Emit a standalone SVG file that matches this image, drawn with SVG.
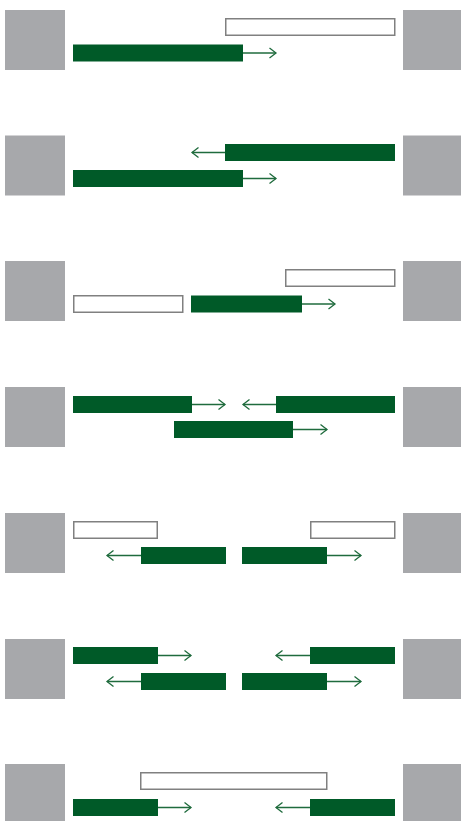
<svg xmlns="http://www.w3.org/2000/svg" width="461" height="821" viewBox="0 0 461 821">
<style>
.sq{fill:#a7a8ab}
.g{fill:#005a28}
.o{fill:#fff;stroke:#808080;stroke-width:1.5}
.a{stroke:#1f6b3d;stroke-width:1.3;fill:none;marker-end:url(#ah)}
</style>
<defs>
<marker id="ah" markerUnits="userSpaceOnUse" markerWidth="10" markerHeight="12" refX="7" refY="6" orient="auto" viewBox="0 0 10 12">
<path d="M0.5,1 L7,6 L0.5,11" fill="none" stroke="#1f6b3d" stroke-width="1.3"/>
</marker>
</defs>
<rect width="461" height="821" fill="#fff"/>
<!-- Row 1 -->
<g id="row1" transform="translate(0,10)">
<g id="r1-left"><rect class="sq" x="5" y="0" width="60" height="60"/></g>
<g id="r1-right"><rect class="sq" x="403" y="0" width="58" height="60"/></g>
<g id="r1-b1"><rect class="o" x="225.75" y="8.75" width="169" height="16.5"/></g>
<g id="r1-b2"><rect class="g" x="73" y="34.5" width="170" height="17"/></g>
<g id="r1-conn"><line class="a" x1="243" y1="43" x2="276" y2="43"/></g>
</g>
<!-- Row 2 -->
<g id="row2" transform="translate(0,135.5)">
<g id="r2-left"><rect class="sq" x="5" y="0" width="60" height="60"/></g>
<g id="r2-right"><rect class="sq" x="403" y="0" width="58" height="60"/></g>
<g id="r2-b1"><rect class="g" x="225" y="8.5" width="170" height="17"/></g>
<g id="r2-b2"><rect class="g" x="73" y="34.5" width="170" height="17"/></g>
<g id="r2-conn"><line class="a" x1="225" y1="17" x2="192" y2="17"/><line class="a" x1="243" y1="43" x2="276" y2="43"/></g>
</g>
<!-- Row 3 -->
<g id="row3" transform="translate(0,261)">
<g id="r3-left"><rect class="sq" x="5" y="0" width="60" height="60"/></g>
<g id="r3-right"><rect class="sq" x="403" y="0" width="58" height="60"/></g>
<g id="r3-b1"><rect class="o" x="285.75" y="8.75" width="109" height="16.5"/></g>
<g id="r3-b2"><rect class="o" x="73.75" y="34.75" width="109" height="16.5"/></g>
<g id="r3-b3"><rect class="g" x="191" y="34.5" width="111" height="17"/></g>
<g id="r3-conn"><line class="a" x1="302" y1="43" x2="335" y2="43"/></g>
</g>
<!-- Row 4 -->
<g id="row4" transform="translate(0,387)">
<g id="r4-left"><rect class="sq" x="5" y="0" width="60" height="60"/></g>
<g id="r4-right"><rect class="sq" x="403" y="0" width="58" height="60"/></g>
<g id="r4-b1"><rect class="g" x="73" y="9" width="119" height="17"/></g>
<g id="r4-b2"><rect class="g" x="276" y="9" width="119" height="17"/></g>
<g id="r4-b3"><rect class="g" x="174" y="34" width="119" height="17"/></g>
<g id="r4-conn"><line class="a" x1="192" y1="17.5" x2="225" y2="17.5"/><line class="a" x1="276" y1="17.5" x2="243" y2="17.5"/><line class="a" x1="293" y1="42.5" x2="327" y2="42.5"/></g>
</g>
<!-- Row 5 -->
<g id="row5" transform="translate(0,513)">
<g id="r5-left"><rect class="sq" x="5" y="0" width="60" height="60"/></g>
<g id="r5-right"><rect class="sq" x="403" y="0" width="58" height="60"/></g>
<g id="r5-b1"><rect class="o" x="73.75" y="8.75" width="83.5" height="16.5"/></g>
<g id="r5-b2"><rect class="o" x="310.75" y="8.75" width="84" height="16.5"/></g>
<g id="r5-b3"><rect class="g" x="141" y="34" width="85" height="17"/></g>
<g id="r5-b4"><rect class="g" x="242" y="34" width="85" height="17"/></g>
<g id="r5-conn"><line class="a" x1="141" y1="42.5" x2="107" y2="42.5"/><line class="a" x1="327" y1="42.5" x2="361" y2="42.5"/></g>
</g>
<!-- Row 6 -->
<g id="row6" transform="translate(0,639)">
<g id="r6-left"><rect class="sq" x="5" y="0" width="60" height="60"/></g>
<g id="r6-right"><rect class="sq" x="403" y="0" width="58" height="60"/></g>
<g id="r6-b1"><rect class="g" x="73" y="8" width="85" height="17"/></g>
<g id="r6-b2"><rect class="g" x="310" y="8" width="85" height="17"/></g>
<g id="r6-b3"><rect class="g" x="141" y="34" width="85" height="17"/></g>
<g id="r6-b4"><rect class="g" x="242" y="34" width="85" height="17"/></g>
<g id="r6-conn"><line class="a" x1="158" y1="16.5" x2="191" y2="16.5"/><line class="a" x1="310" y1="16.5" x2="276" y2="16.5"/><line class="a" x1="141" y1="42.5" x2="107" y2="42.5"/><line class="a" x1="327" y1="42.5" x2="361" y2="42.5"/></g>
</g>
<!-- Row 7 -->
<g id="row7" transform="translate(0,764)">
<g id="r7-left"><rect class="sq" x="5" y="0" width="60" height="60"/></g>
<g id="r7-right"><rect class="sq" x="403" y="0" width="58" height="60"/></g>
<g id="r7-b1"><rect class="o" x="140.75" y="8.75" width="186" height="16.5"/></g>
<g id="r7-b2"><rect class="g" x="73" y="35" width="85" height="17"/></g>
<g id="r7-b3"><rect class="g" x="310" y="35" width="85" height="17"/></g>
<g id="r7-conn"><line class="a" x1="158" y1="43.5" x2="191" y2="43.5"/><line class="a" x1="310" y1="43.5" x2="276" y2="43.5"/></g>
</g>
</svg>
